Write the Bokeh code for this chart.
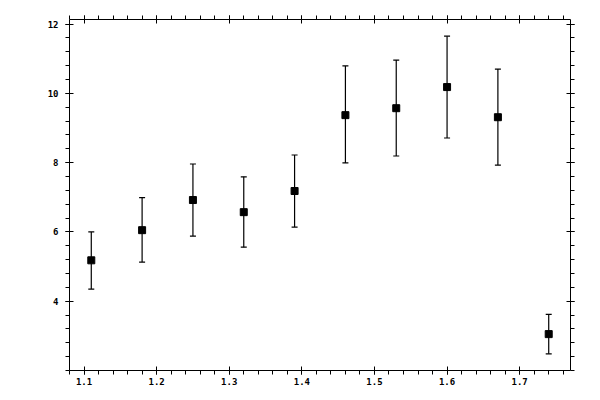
from bokeh.plotting import figure
from bokeh.models import (Range1d, FixedTicker, LinearAxis, Whisker, ColumnDataSource,
                          CustomJSTickFormatter)
from bokeh.embed import file_html
from bokeh.resources import INLINE

# Data
x_vals = [1.11, 1.18, 1.25, 1.32, 1.39, 1.46, 1.53, 1.60, 1.67, 1.74]
y_vals = [5.18, 6.05, 6.92, 6.57, 7.18, 9.37, 9.57, 10.18, 9.31, 3.05]
y_upper = [6.00, 6.99, 7.96, 7.59, 8.22, 10.79, 10.96, 11.65, 10.70, 3.62]
y_lower = [4.35, 5.13, 5.88, 5.56, 6.14, 7.99, 8.19, 8.71, 7.93, 2.48]

x_major = [1.1, 1.2, 1.3, 1.4, 1.5, 1.6, 1.7]
x_minor = [round(1.08 + 0.02 * i, 2) for i in range(35)]
y_major = [4, 6, 8, 10, 12]
y_minor = [round(2.0 + 0.4 * i, 1) for i in range(26)]

FONT = "DejaVu Sans Mono"

p = figure(frame_width=501, frame_height=351,
           x_range=Range1d(1.08, 1.77), y_range=Range1d(2.0, 12.13),
           output_backend="svg", toolbar_location=None,
           min_border_left=69, min_border_top=19, min_border_right=14, min_border_bottom=22,
           background_fill_color="white", border_fill_color="white",
           outline_line_color=None)
p.xgrid.visible = False
p.ygrid.visible = False

def style(ax, labels=True, standoff=4):
    ax.axis_line_color = "black"
    ax.axis_line_width = 1
    ax.major_tick_line_color = "black"
    ax.minor_tick_line_color = "black"
    ax.major_tick_in = 4
    ax.major_tick_out = 4
    ax.minor_tick_in = 0
    ax.minor_tick_out = 4
    ax.major_label_text_font = FONT
    ax.major_label_text_font_size = "9px"
    ax.major_label_text_font_style = "bold"
    ax.major_label_text_color = "black"
    ax.major_label_standoff = standoff
    if not labels:
        ax.formatter = CustomJSTickFormatter(code="return ''")
        ax.major_label_standoff = 0

for ax in p.xaxis:
    ax.ticker = FixedTicker(ticks=x_major, minor_ticks=x_minor)
    style(ax, standoff=3)
for ax in p.yaxis:
    ax.ticker = FixedTicker(ticks=y_major, minor_ticks=y_minor)
    style(ax, standoff=7)

top = LinearAxis(ticker=FixedTicker(ticks=x_major, minor_ticks=x_minor))
style(top, labels=False)
p.add_layout(top, "above")
right = LinearAxis(ticker=FixedTicker(ticks=y_major, minor_ticks=y_minor))
style(right, labels=False)
p.add_layout(right, "right")

src = ColumnDataSource(dict(x=x_vals, y=y_vals, upper=y_upper, lower=y_lower))
w = Whisker(base="x", upper="upper", lower="lower", source=src,
            line_color="black", line_width=1.2, dimension="height")
w.upper_head.size = 6
w.lower_head.size = 6
w.upper_head.line_color = "black"
w.lower_head.line_color = "black"
w.upper_head.line_width = 1.2
w.lower_head.line_width = 1.2
p.add_layout(w)

p.scatter("x", "y", source=src, marker="square", size=7,
          fill_color="black", line_color="black")

open("out.html", "w").write(file_html(p, INLINE))
